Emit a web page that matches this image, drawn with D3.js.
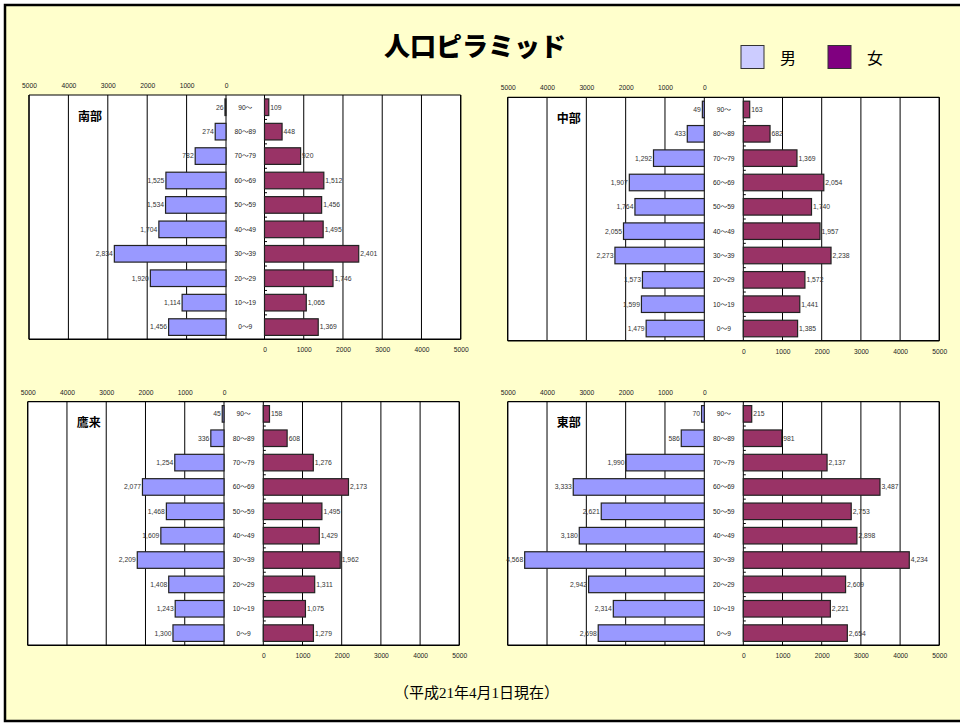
<!DOCTYPE html>
<html>
<head>
<meta charset="utf-8">
<script src="https://cdn.jsdelivr.net/npm/d3@7/dist/d3.min.js"></script>
<style>
  html, body { margin: 0; padding: 0; background: #ffffff; }
  svg { display: block; }
</style>
</head>
<body>
<svg id="chart" width="960" height="724"></svg>
<script>
// ---------------- DATA ----------------
const ageGroups = ["0～9", "10～19", "20～29", "30～39", "40～49", "50～59", "60～69", "70～79", "80～89", "90～"];
const axisTicks = [0, 1000, 2000, 3000, 4000, 5000];

const regionNames = ["南部", "中部", "鷹来", "東部"];

const nanbuMale     = [1456, 1114, 1920, 2834, 1704, 1534, 1525, 782, 274, 26];
const nanbuFemale   = [1369, 1065, 1746, 2401, 1495, 1456, 1512, 920, 448, 109];
const chubuMale     = [1479, 1599, 1573, 2273, 2055, 1764, 1907, 1292, 433, 49];
const chubuFemale   = [1385, 1441, 1572, 2238, 1957, 1740, 2054, 1369, 682, 163];
const takakuMale    = [1300, 1243, 1408, 2209, 1609, 1468, 2077, 1254, 336, 45];
const takakuFemale  = [1279, 1075, 1311, 1962, 1429, 1495, 2173, 1276, 608, 158];
const toubuMale     = [2698, 2314, 2942, 4568, 3180, 2621, 3333, 1990, 586, 70];
const toubuFemale   = [2654, 2221, 2609, 4234, 2898, 2753, 3487, 2137, 981, 215];

const legendLabels = ["男", "女"];
const titleText = "人口ピラミッド";
const footnoteText = "（平成21年4月1日現在）";

// ---------------- LAYOUT ----------------
const maleFill = "#9999FF", femaleFill = "#993366";
const legendFills = ["#CCCCFF", "#800080"];
const smallFont = "'Liberation Sans', Arial, 'Noto Sans CJK JP', sans-serif";
const jpFont = "'Noto Sans CJK JP', sans-serif";

const panels = [
  { name: regionNames[0], male: nanbuMale,  female: nanbuFemale,  l5000: 29,    l0: 226,   r0: 264.5, r5000: 460.7, top: 95,    bottom: 339.3 },
  { name: regionNames[1], male: chubuMale,  female: chubuFemale,  l5000: 507.7, l0: 704.3, r0: 743.3, r5000: 939.3, top: 97.3,  bottom: 340.7 },
  { name: regionNames[2], male: takakuMale, female: takakuFemale, l5000: 27.7,  l0: 224,   r0: 263.3, r5000: 459.3, top: 401.7, bottom: 645.3 },
  { name: regionNames[3], male: toubuMale,  female: toubuFemale,  l5000: 507.7, l0: 704.3, r0: 743.3, r5000: 939.3, top: 401.7, bottom: 645.3 }
];

const svg = d3.select("#chart");

// background frame
svg.append("rect").attr("x", 5).attr("y", 5).attr("width", 970).attr("height", 716)
  .attr("fill", "#FFFFCC").attr("stroke", "#000").attr("stroke-width", 2.5);

// title
svg.append("text").attr("x", 475).attr("y", 56).attr("text-anchor", "middle")
  .attr("font-family", jpFont).attr("font-weight", 900).attr("font-size", 26)
  .attr("fill", "#000").text(titleText);

// legend
const legendX = [741, 828];
legendLabels.forEach((lab, i) => {
  svg.append("rect").attr("x", legendX[i]).attr("y", 45.5).attr("width", 23).attr("height", 23)
    .attr("fill", legendFills[i]).attr("stroke", "#333").attr("stroke-width", 1);
  svg.append("text").attr("x", legendX[i] + 39).attr("y", 63.5)
    .attr("font-family", jpFont).attr("font-size", 16).attr("fill", "#000").text(lab);
});

// footnote
svg.append("text").attr("x", 476.5).attr("y", 697.5).attr("text-anchor", "middle")
  .attr("font-family", "'Liberation Serif', 'Noto Sans CJK JP', serif").attr("font-size", 15)
  .attr("fill", "#000").text(footnoteText);

const fmt = d3.format(",");

panels.forEach(p => {
  const g = svg.append("g");
  const xL = d3.scaleLinear().domain([0, 5000]).range([p.l0, p.l5000]);
  const xR = d3.scaleLinear().domain([0, 5000]).range([p.r0, p.r5000]);
  const y = d3.scaleBand().domain(ageGroups.slice().reverse()).range([p.top, p.bottom]).paddingInner(0.32).paddingOuter(0.16);
  const yStep = d3.scaleBand().domain(ageGroups.slice().reverse()).range([p.top, p.bottom]);

  // plot area
  g.append("rect").attr("x", p.l5000).attr("y", p.top).attr("width", p.r5000 - p.l5000).attr("height", p.bottom - p.top)
    .attr("fill", "#fff");

  // gridlines
  axisTicks.forEach(t => {
    g.append("line").attr("x1", xL(t)).attr("x2", xL(t)).attr("y1", p.top).attr("y2", p.bottom)
      .attr("stroke", "#000").attr("stroke-width", 1);
    g.append("line").attr("x1", xR(t)).attr("x2", xR(t)).attr("y1", p.top).attr("y2", p.bottom)
      .attr("stroke", "#000").attr("stroke-width", 1);
  });

  // category ticks on right zero axis
  ageGroups.forEach(a => {
    const yy = yStep(a);
    if (yy > p.top + 1) {
      g.append("line").attr("x1", p.r0).attr("x2", p.r0 + 2.5).attr("y1", yy).attr("y2", yy)
        .attr("stroke", "#000").attr("stroke-width", 1);
    }
  });

  // border
  g.append("line").attr("x1", p.l5000).attr("x2", p.r5000).attr("y1", p.top).attr("y2", p.top).attr("stroke", "#000").attr("stroke-width", 1.2);
  g.append("line").attr("x1", p.l5000).attr("x2", p.r5000).attr("y1", p.bottom).attr("y2", p.bottom).attr("stroke", "#000").attr("stroke-width", 1.6);
  g.append("line").attr("x1", p.l5000).attr("x2", p.l5000).attr("y1", p.top).attr("y2", p.bottom).attr("stroke", "#000").attr("stroke-width", 1.2);
  g.append("line").attr("x1", p.r5000).attr("x2", p.r5000).attr("y1", p.top).attr("y2", p.bottom).attr("stroke", "#000").attr("stroke-width", 1.2);

  // axes labels
  const topAxis = d3.axisTop(xL).tickValues(axisTicks).tickSize(0).tickPadding(0).tickFormat(d3.format("d"));
  const ta = g.append("g").attr("transform", `translate(0,${p.top - 7})`).call(topAxis);
  ta.select(".domain").remove();
  ta.selectAll("text").attr("font-family", smallFont).attr("font-size", 6.7).attr("fill", "#222").attr("dy", 0);

  const botAxis = d3.axisBottom(xR).tickValues(axisTicks).tickSize(0).tickPadding(0).tickFormat(d3.format("d"));
  const ba = g.append("g").attr("transform", `translate(0,${p.bottom + 13})`).call(botAxis);
  ba.select(".domain").remove();
  ba.selectAll("text").attr("font-family", smallFont).attr("font-size", 6.7).attr("fill", "#222").attr("dy", 0);

  // male bars
  g.selectAll(".m").data(p.male).enter().append("rect")
    .attr("x", d => xL(d)).attr("y", (d, i) => y(ageGroups[i]))
    .attr("width", d => xL(0) - xL(d)).attr("height", y.bandwidth())
    .attr("fill", maleFill).attr("stroke", "#222").attr("stroke-width", 1.2);
  // female bars
  g.selectAll(".f").data(p.female).enter().append("rect")
    .attr("x", xR(0)).attr("y", (d, i) => y(ageGroups[i]))
    .attr("width", d => xR(d) - xR(0)).attr("height", y.bandwidth())
    .attr("fill", femaleFill).attr("stroke", "#222").attr("stroke-width", 1.2);

  // value labels
  g.selectAll(".ml").data(p.male).enter().append("text")
    .attr("x", d => xL(d) - 1.5).attr("y", (d, i) => y(ageGroups[i]) + y.bandwidth() / 2 + 2.4)
    .attr("text-anchor", "end").attr("font-family", smallFont).attr("font-size", 6.8).attr("fill", "#333")
    .text(d => fmt(d));
  g.selectAll(".fl").data(p.female).enter().append("text")
    .attr("x", d => xR(d) + 1.5).attr("y", (d, i) => y(ageGroups[i]) + y.bandwidth() / 2 + 2.4)
    .attr("text-anchor", "start").attr("font-family", smallFont).attr("font-size", 6.8).attr("fill", "#333")
    .text(d => fmt(d));

  // category labels
  g.selectAll(".cl").data(ageGroups).enter().append("text")
    .attr("x", (p.l0 + p.r0) / 2).attr("y", d => y(d) + y.bandwidth() / 2 + 2.4)
    .attr("text-anchor", "middle").attr("font-family", smallFont).attr("font-size", 6.7).attr("fill", "#222")
    .text(d => d);

  // panel name
  g.append("text").attr("x", p.l5000 + 49).attr("y", p.top + 25.5)
    .attr("font-family", jpFont).attr("font-weight", 700).attr("font-size", 12).attr("fill", "#000")
    .text(p.name);
});
</script>
</body>
</html>
